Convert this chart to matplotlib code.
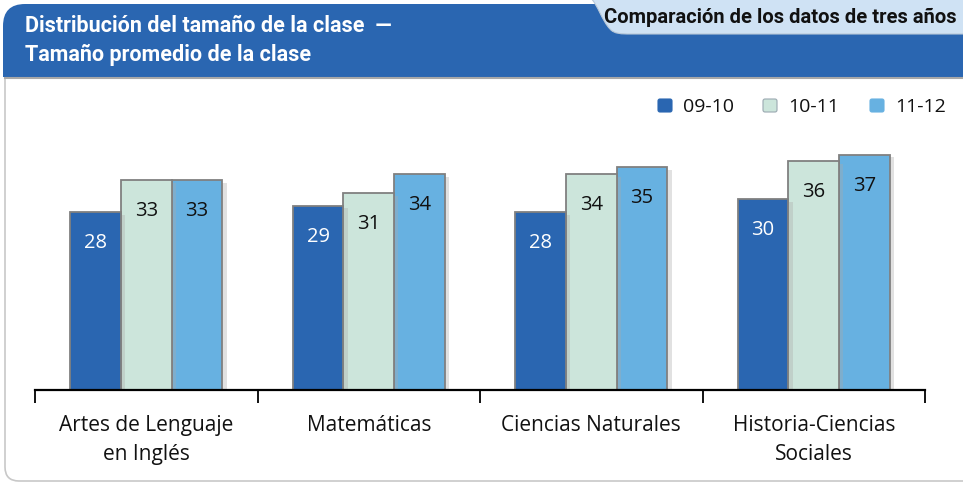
import matplotlib
matplotlib.use("Agg")
import matplotlib.pyplot as plt
from matplotlib.patches import FancyBboxPatch, PathPatch, Rectangle
from matplotlib.path import Path
import matplotlib.patheffects as pe
import numpy as np

categories = ["Artes de Lenguaje\nen Inglés", "Matemáticas", "Ciencias Naturales", "Historia-Ciencias\nSociales"]
series_names = ["09-10", "10-11", "11-12"]
values_0910 = [28, 29, 28, 30]
values_1011 = [33, 31, 34, 36]
values_1112 = [33, 34, 35, 37]
title_line1 = "Distribución del tamaño de la clase  —"
title_line2 = "Tamaño promedio de la clase"
tab_text = "Comparación de los datos de tres años"

colors = ["#2A66B1", "#CCE5DB", "#67B1E1"]
label_colors = ["white", "#111111", "#111111"]

W, H = 963, 485
fig = plt.figure(figsize=(W / 100, H / 100), dpi=100)
fig.patch.set_facecolor("white")

bg = fig.add_axes([0, 0, 1, 1], zorder=0)
bg.set_xlim(0, W)
bg.set_ylim(H, 0)
bg.axis("off")

frame = FancyBboxPatch((5, 20), W + 40, H - 23, boxstyle="round,pad=0,rounding_size=14",
                       facecolor="white", edgecolor="#C8C8C8", linewidth=1.2)
bg.add_patch(frame)
band = FancyBboxPatch((3, 5), W + 40, 73, boxstyle="round,pad=0,rounding_size=22",
                      facecolor="#2A66B1", edgecolor="none")
bg.add_patch(band)
bg.add_patch(Rectangle((3, 40), W + 40, 38, facecolor="#2A66B1", edgecolor="none"))
bg.plot([5, W], [78.5, 78.5], color="#A8A8A8", lw=1.5)

verts = [(580, -2), (590, -2),
         (598, 6), (602, 22), (610, 30),
         (614, 35), (622, 35), (630, 35),
         (W + 5, 35), (W + 5, -2), (580, -2)]
codes = [Path.MOVETO, Path.LINETO,
         Path.CURVE4, Path.CURVE4, Path.CURVE4,
         Path.CURVE4, Path.CURVE4, Path.CURVE4,
         Path.LINETO, Path.LINETO, Path.CLOSEPOLY]
bg.add_patch(PathPatch(Path(verts, codes), facecolor="#CFE2F4", edgecolor="#B8C8D8", lw=0.8))

hfont = ["Roboto", "DejaVu Sans"]
bg.text(25, 26, title_line1, color="white", fontsize=15.5, fontweight="bold", family=hfont, va="center", ha="left")
bg.text(25, 55, title_line2, color="white", fontsize=15.5, fontweight="bold", family=hfont, va="center", ha="left")
bg.text(957, 17, tab_text, color="#111111", fontsize=14.5, fontweight="bold", family=hfont, va="center", ha="right")

left, right, bottom_px, top_px = 35, 925, 391, 100
ax = fig.add_axes([left / W, (H - bottom_px) / H, (right - left) / W, (bottom_px - top_px) / H], zorder=1)
ax.patch.set_alpha(0)
ax.set_xlim(-0.5, len(categories) - 0.5)
ax.set_ylim(0, (bottom_px - top_px) / 6.36)

x = np.arange(len(categories))
bw = 0.228
series = [values_0910, values_1011, values_1112]
shadow = [pe.SimplePatchShadow(offset=(3, -2), shadow_rgbFace="#AAAAAA", alpha=0.35), pe.Normal()]
bodyfont = ["Open Sans", "DejaVu Sans"]
for i, (vals, c, lc) in enumerate(zip(series, colors, label_colors)):
    bars = ax.bar(x + (i - 1) * bw, vals, width=bw, color=c, edgecolor="#808080", linewidth=1.3,
                  label=series_names[i], zorder=2 + (2 - i) * 0.01)
    for b in bars:
        b.set_path_effects(shadow)
    for xi, v in zip(x + (i - 1) * bw, vals):
        ax.annotate(str(v), (xi, v), xytext=(0, -30), textcoords="offset pixels",
                    ha="center", va="center", fontsize=14.5, color=lc, family=bodyfont, zorder=5)

for s in ["top", "right", "left"]:
    ax.spines[s].set_visible(False)
ax.spines["bottom"].set_linewidth(1.6)
ax.spines["bottom"].set_color("black")
ax.set_yticks([])
ax.set_xticks(np.arange(-0.5, len(categories), 1.0))
ax.set_xticklabels([])
ax.tick_params(axis="x", which="major", direction="out", length=9, width=1.3, color="black")
ax.set_xticks(x, minor=True)
ax.set_xticklabels(categories, minor=True, fontsize=15, family=bodyfont,
                   linespacing=1.5, va="top", color="#111111")
ax.tick_params(axis="x", which="minor", length=0, pad=17)

lx = [658, 763, 870]
for xx, c, name in zip(lx, colors, series_names):
    bg.add_patch(FancyBboxPatch((xx, 100), 14, 13, boxstyle="round,pad=0,rounding_size=2",
                                facecolor=c, edgecolor="#9AA8B0" if c == colors[1] else c, lw=0.8, zorder=3))
    bg.text(xx + 25, 106.5, name, fontsize=14, family=bodyfont, va="center", ha="left", color="#111111")

fig.savefig("out.png", dpi=100)
